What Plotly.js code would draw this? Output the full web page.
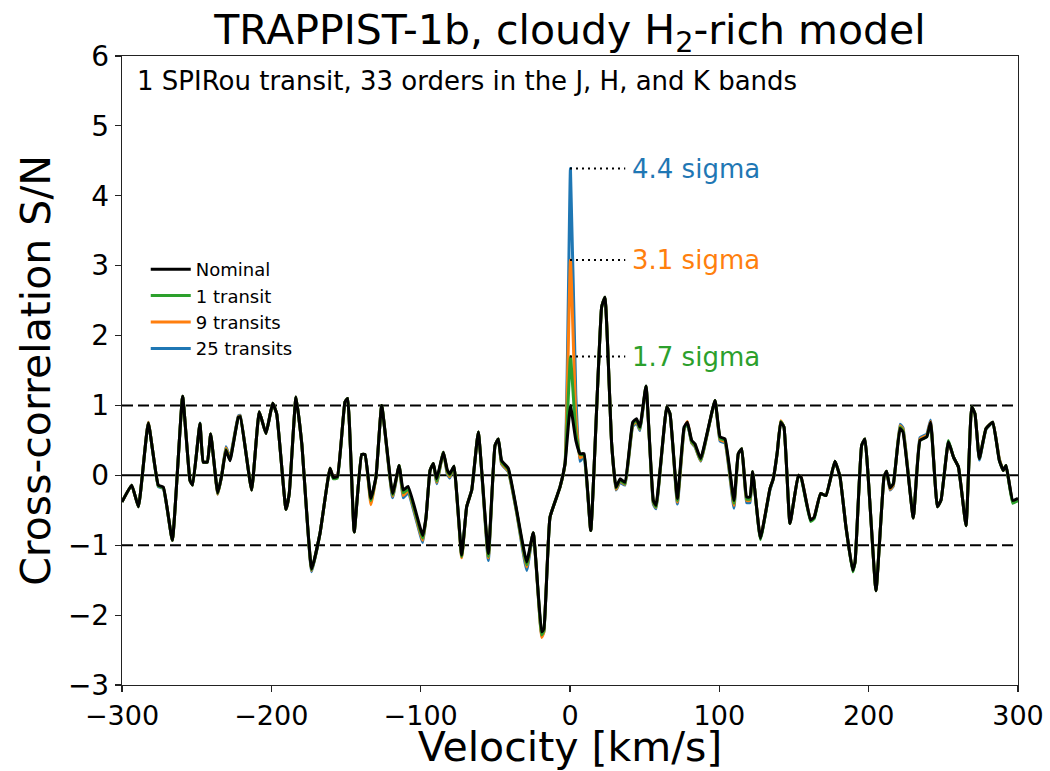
<!DOCTYPE html>
<html>
<head>
<meta charset="utf-8">
<script src="https://cdn.plot.ly/plotly-3.0.1.min.js"></script>
<style>body{margin:0;background:#fff}#chart{width:1050px;height:771px}</style>
</head>
<body>
<div id="chart"></div>
<script>
const velocity = [-300,-293.5,-289,-282.4,-275.7,-272.3,-266.3,-259.4,-254.5,-252.7,-247.8,-245.6,-242.9,-240.6,-235.9,-233.2,-230.4,-227.7,-222.1,-220.8,-213.2,-208.1,-203.6,-199.1,-196.4,-190.2,-188,-183.5,-179.6,-173,-167.4,-160.7,-158.5,-155.8,-150.7,-148.9,-144.5,-139.5,-137.3,-133.3,-129.9,-126.1,-118.8,-114.4,-111.7,-108.4,-98.6,-96.4,-93.7,-91.5,-89.3,-84.8,-82.2,-80.5,-77.7,-72.5,-69.2,-65.8,-61.4,-54.7,-50.2,-48,-45.8,-41.3,-35.7,-29,-24.6,-19,-17.5,-13.4,-6.7,-3.3,0.3,3.9,6.7,9.4,13.9,21.2,23.4,27.9,30.8,33.5,36.8,42,44.6,46.8,50.9,55.8,57.6,64.8,67,71.9,76.4,78.6,81.5,83.7,87.5,97.1,100.5,103.8,109.8,112.7,115,118.3,120.5,122.3,127.5,133.9,136.1,138.8,141.1,143.3,147.3,152.9,154.8,161.1,163.5,167.8,171.4,177.4,180.8,184.8,189.3,190.9,195.3,197.5,204.9,210.3,212,214.3,216.5,221,223,229.9,234.4,238.9,241.5,246,248.5,253.4,256.8,260.1,265.2,269,271.2,274.1,278.6,283.1,287.5,290.2,292,296.5,300];
const nominal = [-0.38,-0.14,-0.45,0.75,-0.14,-0.17,-0.93,1.13,-0.07,-0.14,0.74,0.19,0.19,0.59,-0.25,0.0,0.36,0.21,0.83,0.84,-0.21,0.91,0.60,1.03,0.88,-0.49,-0.26,1.12,0.45,-1.34,-0.83,0.10,-0.03,-0.02,1.05,1.10,-0.81,0.30,0.30,-0.33,-0.02,1.00,-0.26,0.14,-0.21,-0.16,-0.86,-0.60,0.07,0.17,-0.05,0.33,0.08,0.02,0.13,-1.14,-0.45,-0.21,0.62,-1.12,0.43,0.52,0.21,0.10,-0.50,-1.24,-0.82,-2.24,-2.20,-0.60,-0.17,0.17,1.00,0.50,0.31,0.31,-0.79,2.41,2.55,0.45,-0.17,-0.05,-0.10,0.76,0.81,0.69,1.28,-0.36,-0.43,0.98,0.88,-0.33,0.69,0.76,0.50,0.45,0.24,1.07,0.55,0.52,-0.36,0.31,0.38,-0.31,-0.31,0.05,-0.90,-0.19,-0.05,0.33,0.76,0.69,-0.69,0.0,-0.03,-0.64,-0.60,-0.26,-0.29,0.20,-0.02,-0.74,-1.36,-1.24,0.43,0.52,-1.65,-0.02,0.06,-0.18,-0.12,0.67,0.62,-0.61,0.50,0.55,0.76,-0.45,-0.35,0.48,0.26,0.12,-0.72,0.98,0.88,0.24,0.67,0.76,0.21,0.07,0.14,-0.36,-0.33];
const transit1 = [-0.38,-0.14,-0.45,0.75,-0.15,-0.18,-0.93,1.13,-0.07,-0.14,0.74,0.19,0.19,0.59,-0.26,0.0,0.37,0.22,0.83,0.84,-0.21,0.91,0.60,1.03,0.88,-0.49,-0.26,1.12,0.45,-1.35,-0.83,0.10,-0.05,-0.04,1.05,1.10,-0.81,0.30,0.30,-0.36,-0.02,1.00,-0.28,0.14,-0.25,-0.20,-0.90,-0.60,0.07,0.17,-0.08,0.33,0.06,0.0,0.13,-1.16,-0.45,-0.21,0.62,-1.16,0.43,0.52,0.19,0.08,-0.52,-1.28,-0.82,-2.28,-2.22,-0.60,-0.17,0.17,1.70,0.62,0.30,0.29,-0.79,2.41,2.55,0.45,-0.18,-0.07,-0.12,0.74,0.79,0.67,1.28,-0.38,-0.45,0.98,0.88,-0.36,0.67,0.74,0.48,0.43,0.22,1.07,0.53,0.50,-0.40,0.31,0.38,-0.34,-0.34,0.05,-0.92,-0.19,-0.05,0.33,0.77,0.69,-0.69,0.0,-0.04,-0.66,-0.62,-0.26,-0.29,0.20,-0.02,-0.74,-1.38,-1.24,0.43,0.52,-1.65,-0.02,0.06,-0.18,-0.12,0.69,0.64,-0.61,0.50,0.55,0.74,-0.45,-0.35,0.50,0.26,0.12,-0.72,0.98,0.88,0.24,0.67,0.76,0.21,0.07,0.14,-0.40,-0.36];
const transits9 = [-0.38,-0.14,-0.45,0.76,-0.15,-0.18,-0.93,1.13,-0.07,-0.14,0.74,0.19,0.19,0.59,-0.27,0.0,0.39,0.24,0.84,0.85,-0.21,0.91,0.60,1.03,0.88,-0.49,-0.26,1.12,0.45,-1.36,-0.83,0.10,-0.03,-0.02,1.05,1.10,-0.81,0.30,0.30,-0.42,-0.02,1.00,-0.30,0.14,-0.29,-0.22,-0.93,-0.60,0.07,0.17,-0.10,0.33,0.04,-0.02,0.13,-1.18,-0.45,-0.21,0.62,-1.18,0.43,0.52,0.17,0.06,-0.53,-1.31,-0.82,-2.32,-2.24,-0.60,-0.17,0.17,3.08,0.85,0.25,0.28,-0.79,2.41,2.55,0.45,-0.20,-0.08,-0.13,0.72,0.77,0.66,1.27,-0.39,-0.46,0.98,0.88,-0.38,0.66,0.77,0.47,0.42,0.21,1.07,0.51,0.48,-0.43,0.31,0.38,-0.36,-0.36,0.05,-0.90,-0.19,-0.05,0.33,0.78,0.69,-0.69,0.0,-0.03,-0.64,-0.60,-0.26,-0.29,0.20,-0.02,-0.74,-1.36,-1.24,0.43,0.52,-1.65,-0.02,0.06,-0.20,-0.14,0.71,0.66,-0.61,0.52,0.57,0.77,-0.45,-0.35,0.48,0.26,0.12,-0.72,0.98,0.88,0.24,0.67,0.76,0.23,0.07,0.14,-0.38,-0.34];
const transits25 = [-0.38,-0.14,-0.45,0.76,-0.16,-0.19,-0.93,1.13,-0.07,-0.14,0.75,0.19,0.19,0.59,-0.27,0.0,0.41,0.26,0.85,0.86,-0.21,0.91,0.60,1.03,0.88,-0.49,-0.26,1.12,0.45,-1.38,-0.83,0.10,-0.03,-0.02,1.05,1.10,-0.81,0.30,0.30,-0.38,-0.02,1.00,-0.32,0.14,-0.32,-0.25,-0.96,-0.60,0.07,0.17,-0.12,0.33,0.02,-0.04,0.13,-1.16,-0.45,-0.21,0.62,-1.22,0.43,0.52,0.16,0.05,-0.54,-1.36,-0.82,-2.30,-2.24,-0.60,-0.17,0.17,4.39,1.15,0.20,0.27,-0.79,2.41,2.55,0.45,-0.21,-0.10,-0.14,0.70,0.75,0.64,1.26,-0.41,-0.48,0.98,0.88,-0.41,0.65,0.76,0.46,0.41,0.20,1.07,0.49,0.46,-0.47,0.31,0.38,-0.39,-0.39,0.05,-0.90,-0.21,-0.05,0.33,0.77,0.69,-0.69,0.0,-0.03,-0.64,-0.60,-0.26,-0.29,0.20,-0.02,-0.74,-1.36,-1.24,0.43,0.52,-1.65,-0.02,0.06,-0.21,-0.15,0.73,0.68,-0.61,0.54,0.59,0.79,-0.45,-0.35,0.48,0.26,0.12,-0.72,0.98,0.88,0.22,0.66,0.76,0.23,0.07,0.14,-0.38,-0.34];

const sigmaLabels = ['4.4 sigma', '3.1 sigma', '1.7 sigma'];
const sigmaValues = [4.39, 3.08, 1.70];
const sigmaColors = ['#1f77b4', '#ff7f0e', '#2ca02c'];

const FONT = 'DejaVu Sans, sans-serif';
const LINE = {width: 3, shape: 'spline', smoothing: 0.35};

const traces = [
  {x: velocity, y: transits25, name: '25 transits', mode: 'lines', line: Object.assign({color: '#1f77b4'}, LINE)},
  {x: velocity, y: transits9, name: '9 transits', mode: 'lines', line: Object.assign({color: '#ff7f0e'}, LINE)},
  {x: velocity, y: transit1, name: '1 transit', mode: 'lines', line: Object.assign({color: '#2ca02c'}, LINE)},
  {x: velocity, y: nominal, name: 'Nominal', mode: 'lines', line: Object.assign({color: '#000000'}, LINE)}
];

const shapes = [
  {type: 'line', xref: 'x', yref: 'y', x0: -300, x1: 300, y0: 0, y1: 0, line: {color: '#000', width: 2}, layer: 'below'},
  {type: 'line', xref: 'x', yref: 'y', x0: -300, x1: 300, y0: 1, y1: 1, line: {color: '#000', width: 2, dash: '11px,5px'}, layer: 'below'},
  {type: 'line', xref: 'x', yref: 'y', x0: -300, x1: 300, y0: -1, y1: -1, line: {color: '#000', width: 2, dash: '11px,5px'}, layer: 'below'}
];
const annotations = [
  {xref: 'paper', yref: 'paper', x: 0.014, y: 0.960, xanchor: 'left', yanchor: 'middle', showarrow: false,
   text: '1 SPIRou transit, 33 orders in the J, H, and K bands', font: {family: FONT, size: 26, color: '#000'}}
];
for (let i = 0; i < sigmaLabels.length; i++) {
  shapes.push({type: 'line', xref: 'x', yref: 'y', x0: 0, x1: 37, y0: sigmaValues[i], y1: sigmaValues[i],
    line: {color: '#000', width: 2, dash: '2px,4px'}});
  annotations.push({xref: 'x', yref: 'y', x: 40, y: sigmaValues[i], xanchor: 'left', yanchor: 'middle', showarrow: false,
    text: sigmaLabels[i], font: {family: FONT, size: 26, color: sigmaColors[i]}});
}

const layout = {
  width: 1050, height: 771,
  margin: {l: 122, r: 32, t: 56, b: 86},
  paper_bgcolor: '#fff', plot_bgcolor: '#fff',
  font: {family: FONT, color: '#000'},
  title: {text: 'TRAPPIST-1b, cloudy H<sub>2</sub>-rich model', font: {family: FONT, size: 41, color: '#000'},
          x: 0.5, xref: 'paper', xanchor: 'center', y: 0.962, yanchor: 'middle'},
  xaxis: {range: [-300, 300], tickvals: [-300, -200, -100, 0, 100, 200, 300], showgrid: false, zeroline: false,
          showline: true, mirror: true, linecolor: '#222', linewidth: 1.2, ticks: 'outside', ticklen: 6, tickwidth: 1.2, tickcolor: '#222',
          tickfont: {family: FONT, size: 27}, title: {text: 'Velocity [km/s]', font: {family: FONT, size: 41}, standoff: 8}},
  yaxis: {range: [-3, 6], tickvals: [-3, -2, -1, 0, 1, 2, 3, 4, 5, 6], showgrid: false, zeroline: false,
          showline: true, mirror: true, linecolor: '#222', linewidth: 1.2, ticks: 'outside', ticklen: 6, tickwidth: 1.2, tickcolor: '#222',
          tickfont: {family: FONT, size: 28}, title: {text: 'Cross-correlation S/N', font: {family: FONT, size: 41}, standoff: 4}},
  showlegend: true,
  legend: {x: 0.0265, y: 0.69, xanchor: 'left', yanchor: 'top', traceorder: 'reversed', bgcolor: 'rgba(0,0,0,0)',
           font: {family: FONT, size: 18}, itemwidth: 40},
  shapes: shapes,
  annotations: annotations
};

Plotly.newPlot('chart', traces, layout, {displayModeBar: false, staticPlot: true});
</script>
</body>
</html>
